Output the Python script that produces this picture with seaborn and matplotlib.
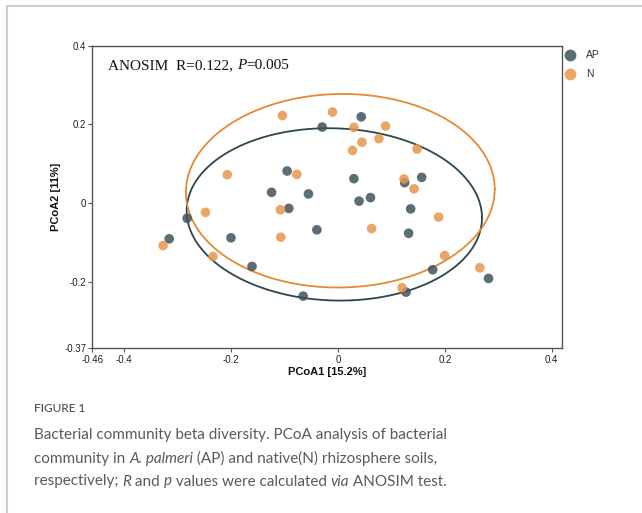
import numpy as np
import pandas as pd
import matplotlib
matplotlib.use("Agg")
import matplotlib.pyplot as plt
import seaborn as sns
from matplotlib.lines import Line2D

# PCoA coordinates of rhizosphere samples
groups = ["AP", "N"]
ap_x = [0.0435, -0.0296, -0.0953, -0.1244, -0.0553, -0.0921, 0.0298, 0.0394, 0.0608, 0.1248, 0.1567,
        0.1360, 0.1323, -0.0396, -0.2004, -0.2824, -0.3161, -0.1610, -0.0653, 0.1773, 0.1274, 0.2818]
ap_y = [0.219, 0.193, 0.0812, 0.0269, 0.0228, -0.0140, 0.0617, 0.0046, 0.0135, 0.0515, 0.0650,
        -0.0152, -0.0772, -0.0685, -0.0888, -0.0391, -0.0914, -0.1617, -0.2371, -0.1701, -0.2269, -0.1921]
n_x = [-0.1041, -0.0103, 0.0298, 0.0891, 0.0448, 0.0767, 0.0272, 0.1480, -0.2073, -0.0771, -0.2482,
       -0.1079, -0.1071, -0.3274, -0.2341, 0.0629, 0.1236, 0.1424, 0.1884, 0.1998, 0.2655, 0.1199]
n_y = [0.2223, 0.2312, 0.1924, 0.1954, 0.1543, 0.1637, 0.1335, 0.1371, 0.0718, 0.0726, -0.0239,
       -0.0175, -0.0873, -0.1084, -0.1363, -0.0652, 0.0609, 0.0358, -0.0360, -0.1338, -0.1650, -0.2157]

x_ticks = [-0.46, -0.4, -0.2, 0, 0.2, 0.4]
x_tick_labels = ["-0.46", "-0.4", "-0.2", "0", "0.2", "0.4"]
y_ticks = [-0.37, -0.2, 0, 0.2, 0.4]
y_tick_labels = ["-0.37", "-0.2", "0", "0.2", "0.4"]
x_label = "PCoA1 [15.2%]"
y_label = "PCoA2 [11%]"
ellipse_level = 0.8

point_colors = {"AP": "#3f535b", "N": "#e8974c"}
line_colors = {"AP": "#2d454e", "N": "#e58a33"}

df = pd.DataFrame({
    "PCoA1": ap_x + n_x,
    "PCoA2": ap_y + n_y,
    "Group": ["AP"] * len(ap_x) + ["N"] * len(n_x),
})

sns.set_theme(style="ticks")
plt.rcParams["font.family"] = ["Liberation Sans", "DejaVu Sans"]

fig = plt.figure(figsize=(6.42, 5.13), dpi=100)
ax = fig.add_axes([0.1438, 0.3210, 0.8759 - 0.1438, 0.9109 - 0.3210])

sns.scatterplot(data=df, x="PCoA1", y="PCoA2", hue="Group", hue_order=groups,
                palette=point_colors, s=48, alpha=0.85, edgecolor="none",
                legend=False, ax=ax, zorder=3)

# normal-theory confidence ellipse per group
radius = np.sqrt(-2.0 * np.log(1.0 - ellipse_level))
theta = np.linspace(0, 2 * np.pi, 400)
circle = np.vstack([np.cos(theta), np.sin(theta)])
for g in groups:
    sub = df[df["Group"] == g][["PCoA1", "PCoA2"]].to_numpy()
    center = sub.mean(axis=0)
    cov = np.cov(sub, rowvar=False)
    chol = np.linalg.cholesky(cov)
    pts = center[:, None] + radius * chol @ circle
    ax.plot(pts[0], pts[1], color=line_colors[g], lw=1.3, zorder=2)

ax.set_xlim(-0.46, 0.42)
ax.set_ylim(-0.37, 0.4)
ax.set_xticks(x_ticks)
ax.set_xticklabels(x_tick_labels)
ax.set_yticks(y_ticks)
ax.set_yticklabels(y_tick_labels)
ax.tick_params(axis="both", labelsize=7, length=3, width=0.8, color="#555555",
               labelcolor="#222222", pad=1.5)
for sp in ax.spines.values():
    sp.set_visible(True)
    sp.set_color("#555555")
    sp.set_linewidth(1.0)
ax.set_xlabel(x_label, fontsize=8, fontweight="bold", labelpad=2, color="#111111")
ax.set_ylabel(y_label, fontsize=8, fontweight="bold", labelpad=2, color="#111111")

# statistic annotation in serif
serif = ["Liberation Serif", "DejaVu Serif"]
t1 = ax.text(0.033, 0.913, "ANOSIM  R=0.122, ", transform=ax.transAxes, fontsize=11,
             family=serif, ha="left", va="bottom", color="#111111")
t2 = ax.annotate("P", xy=(1, 0), xycoords=t1, fontsize=11, family=serif, style="italic",
                 ha="left", va="bottom", color="#111111")
ax.annotate("=0.005", xy=(1, 0), xycoords=t2, fontsize=11, family=serif,
            ha="left", va="bottom", color="#111111")

handles = [Line2D([0], [0], marker="o", ls="none", markersize=8.5, markerfacecolor=point_colors[g],
                  markeredgecolor="none", alpha=0.85) for g in groups]
ax.legend(handles, groups, loc="upper left", bbox_to_anchor=(0.99, 1.005), frameon=False,
          fontsize=7.5, handletextpad=0.9, labelspacing=0.85, borderaxespad=0.2,
          handlelength=1.2, labelcolor="#333333")

# card frame
fig.add_artist(Line2D([7 / 642, 1.0], [1 - 6 / 513, 1 - 6 / 513], transform=fig.transFigure,
                      color="#cfcfcf", lw=1.5))
fig.add_artist(Line2D([7 / 642, 7 / 642], [0, 1 - 6 / 513], transform=fig.transFigure,
                      color="#cfcfcf", lw=1.5))

# caption
cap_font = ["Lato", "DejaVu Sans"]
cap_color = "#5a5a5a"
fig.text(34 / 642, 1 - 409 / 513, "FIGURE 1", fontsize=8.5, family=cap_font, color=cap_color,
         va="center", ha="left", fontweight="semibold")

caption_lines = [
    [("Bacterial community beta diversity. PCoA analysis of bacterial", "normal")],
    [("community in ", "normal"), ("A. palmeri", "italic"), (" (AP) and native(N) rhizosphere soils,", "normal")],
    [("respectively; ", "normal"), ("R", "italic"), (" and ", "normal"), ("p", "italic"),
     (" values were calculated ", "normal"), ("via", "italic"), (" ANOSIM test.", "normal")],
]
line_y = [433, 457, 480]
cap_size = 11
for runs, ypx in zip(caption_lines, line_y):
    prev = None
    for txt, st in runs:
        if prev is None:
            prev = fig.text(34 / 642, 1 - ypx / 513, txt, fontsize=cap_size, family=cap_font,
                            style=st, color=cap_color, ha="left", va="center_baseline")
        else:
            prev = ax.annotate(txt, xy=(1, 0), xycoords=prev, fontsize=cap_size, family=cap_font,
                               style=st, color=cap_color, ha="left", va="bottom",
                               annotation_clip=False)

fig.savefig("out.png", dpi=100)
